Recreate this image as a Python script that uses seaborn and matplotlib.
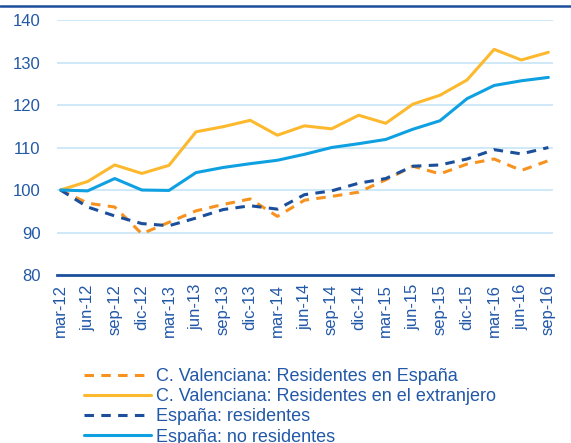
import pandas as pd
import matplotlib.pyplot as plt
import matplotlib.lines as mlines
import seaborn as sns

# Quarter labels (x axis)
periodos = ["mar-12", "jun-12", "sep-12", "dic-12", "mar-13", "jun-13", "sep-13", "dic-13",
            "mar-14", "jun-14", "sep-14", "dic-14", "mar-15", "jun-15", "sep-15", "dic-15",
            "mar-16", "jun-16", "sep-16"]

# Index values (base mar-12 = 100)
cv_residentes = [100, 96.9, 96.0, 89.7, 92.4, 95.1, 96.6, 97.9, 93.8, 97.6, 98.5, 99.5,
                 102.4, 105.6, 103.8, 106.1, 107.3, 104.6, 106.9]
cv_extranjero = [100, 102.0, 105.9, 103.9, 105.8, 113.7, 114.9, 116.4, 112.9, 115.1, 114.4,
                 117.6, 115.7, 120.2, 122.3, 125.9, 133.1, 130.6, 132.4]
es_residentes = [100, 96.0, 93.9, 92.1, 91.6, 93.4, 95.4, 96.3, 95.5, 98.9, 99.8, 101.6,
                 102.7, 105.6, 105.9, 107.3, 109.5, 108.5, 110.0]
es_no_residentes = [100, 99.8, 102.7, 100.0, 99.9, 104.1, 105.3, 106.2, 107.0, 108.4, 110.0,
                    110.9, 111.9, 114.3, 116.3, 121.5, 124.6, 125.7, 126.5]

series = ["C. Valenciana: Residentes en España",
          "C. Valenciana: Residentes en el extranjero",
          "España: residentes",
          "España: no residentes"]
valores = [cv_residentes, cv_extranjero, es_residentes, es_no_residentes]

rows = []
for nombre, vals in zip(series, valores):
    for i, v in enumerate(vals):
        rows.append({"idx": i, "valor": v, "serie": nombre})
df = pd.DataFrame(rows)

AZUL = "#1B4F9C"
TEXTO = "#2158A8"
colores = {series[0]: "#F7921E", series[1]: "#FDB92E",
           series[2]: "#1B4F9C", series[3]: "#0EA0E0"}
trazos = {series[0]: (3.1, 2.4), series[1]: "",
          series[2]: (3.1, 2.4), series[3]: ""}

sns.set_style("white")
plt.rcParams["font.family"] = ["Liberation Sans", "DejaVu Sans"]

fig = plt.figure(figsize=(5.71, 4.43), dpi=100)
ax = fig.add_axes([0.1003, 0.3792, 0.8686, 0.5756])

sns.lineplot(data=df, x="idx", y="valor", hue="serie", style="serie",
             palette=colores, dashes=trazos, linewidth=2.2, legend=False, ax=ax)
for ln in ax.get_lines():
    ln.set_dash_capstyle("butt")

ax.set_xlim(-0.12, 18.18)
ax.set_ylim(80, 140)
ax.set_yticks([80, 90, 100, 110, 120, 130, 140])
ax.set_xticks(range(len(periodos)))
ax.set_xticklabels(periodos, rotation=90)
ax.set_xlabel("")
ax.set_ylabel("")

for y in [90, 100, 110, 120, 130, 140]:
    ax.axhline(y, color="#C6E5F7", linewidth=1.2, zorder=0)

for s in ["top", "right", "left"]:
    ax.spines[s].set_visible(False)
ax.spines["bottom"].set_color(AZUL)
ax.spines["bottom"].set_linewidth(2.0)

ax.tick_params(axis="x", direction="out", length=4.5, width=1.6, color=AZUL,
               labelcolor=TEXTO, labelsize=12, pad=2)
ax.tick_params(axis="y", length=0, labelcolor=TEXTO, labelsize=12, pad=12)

# top rule across the figure
fig.add_artist(mlines.Line2D([0, 1], [0.9865, 0.9865], color=AZUL, linewidth=1.8,
                             transform=fig.transFigure))

handles = []
for nombre in series:
    d = trazos[nombre]
    h = mlines.Line2D([], [], color=colores[nombre], linewidth=2.2,
                      linestyle=(0, d) if d else "-", dash_capstyle="butt")
    handles.append(h)
fig.legend(handles, series, loc="upper left", bbox_to_anchor=(0.131, 0.190),
           frameon=False, fontsize=13, handlelength=3.7, handletextpad=0.28,
           labelspacing=0.18, borderpad=0, labelcolor=TEXTO)

fig.savefig("out.png", dpi=100)
plt.close(fig)
